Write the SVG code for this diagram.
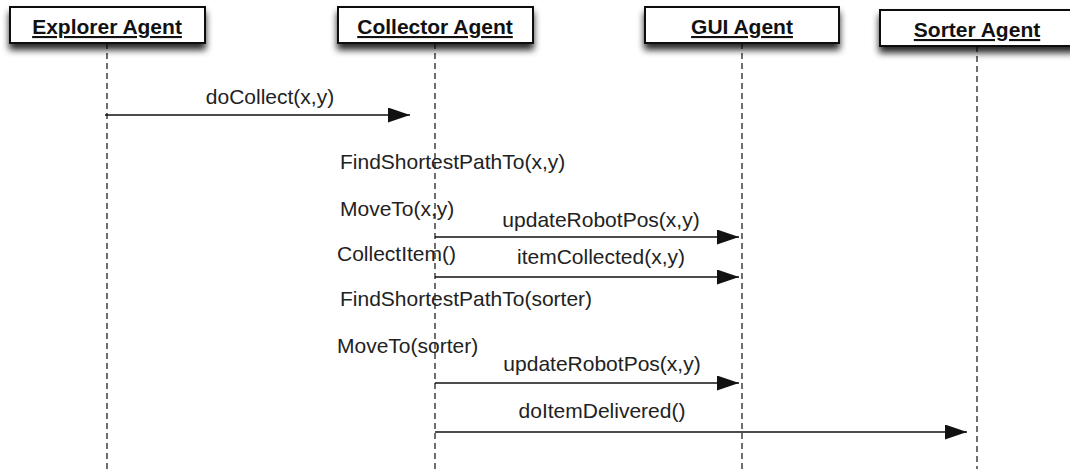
<svg xmlns="http://www.w3.org/2000/svg" width="1070" height="469" viewBox="0 0 1070 469">
<style>
.box{fill:#fff;stroke:#111;stroke-width:2}
.lbl{font-family:"Liberation Sans",Arial,sans-serif;font-size:21px;font-weight:bold;fill:#111;text-anchor:middle;text-decoration:underline}
.life{stroke:#222;stroke-width:1.3;stroke-dasharray:6 4;fill:none}
.msg{stroke:#111;stroke-width:1.5;fill:none}
.txt{font-family:"Liberation Sans",Arial,sans-serif;font-size:21px;fill:#222}
.mid{text-anchor:middle}
</style>
<defs>
<filter id="sh" x="-10%" y="-30%" width="120%" height="190%">
<feGaussianBlur in="SourceAlpha" stdDeviation="3.5"/>
<feOffset dx="0" dy="6" result="b"/>
<feComponentTransfer><feFuncA type="linear" slope="0.85"/></feComponentTransfer>
<feMerge><feMergeNode/><feMergeNode in="SourceGraphic"/></feMerge>
</filter>
<marker id="ah" markerWidth="22" markerHeight="15" refX="22" refY="7.5" orient="auto" markerUnits="userSpaceOnUse">
<path d="M0,0 L22,7.5 L0,15 Z" fill="#111"/>
</marker>
</defs>
<g id="lifelines">
<line class="life" x1="107" y1="43" x2="107" y2="469"/>
<line class="life" x1="435" y1="43" x2="435" y2="469"/>
<line class="life" x1="742" y1="43" x2="742" y2="469"/>
<line class="life" x1="977" y1="46" x2="977" y2="469"/>
</g>
<g id="explorer">
<rect class="box" x="10" y="7" width="195" height="36" filter="url(#sh)"/>
<text class="lbl" x="107" y="34">Explorer Agent</text>
</g>
<g id="collector">
<rect class="box" x="338" y="7" width="195" height="36" filter="url(#sh)"/>
<text class="lbl" x="435" y="34">Collector Agent</text>
</g>
<g id="gui">
<rect class="box" x="645" y="7" width="194" height="36" filter="url(#sh)"/>
<text class="lbl" x="742" y="34">GUI Agent</text>
</g>
<g id="sorter">
<rect class="box" x="880" y="10" width="196" height="36" filter="url(#sh)"/>
<text class="lbl" x="977" y="37">Sorter Agent</text>
</g>
<g id="connectors">
<line class="msg" x1="105" y1="115" x2="410" y2="115" marker-end="url(#ah)"/>
<line class="msg" x1="435" y1="237" x2="739" y2="237" marker-end="url(#ah)"/>
<line class="msg" x1="435" y1="277" x2="739" y2="277" marker-end="url(#ah)"/>
<line class="msg" x1="435" y1="383" x2="739" y2="383" marker-end="url(#ah)"/>
<line class="msg" x1="435" y1="432" x2="967" y2="432" marker-end="url(#ah)"/>
</g>
<g id="labels">
<text class="txt mid" x="270" y="104">doCollect(x,y)</text>
<text class="txt" x="340" y="169">FindShortestPathTo(x,y)</text>
<text class="txt" x="340" y="216">MoveTo(x,y)</text>
<text class="txt mid" x="601" y="227">updateRobotPos(x,y)</text>
<text class="txt" x="337" y="261">CollectItem()</text>
<text class="txt mid" x="601" y="264">itemCollected(x,y)</text>
<text class="txt" x="340" y="306">FindShortestPathTo(sorter)</text>
<text class="txt" x="337" y="353">MoveTo(sorter)</text>
<text class="txt mid" x="602" y="371">updateRobotPos(x,y)</text>
<text class="txt mid" x="602" y="418">doItemDelivered()</text>
</g>
</svg>
